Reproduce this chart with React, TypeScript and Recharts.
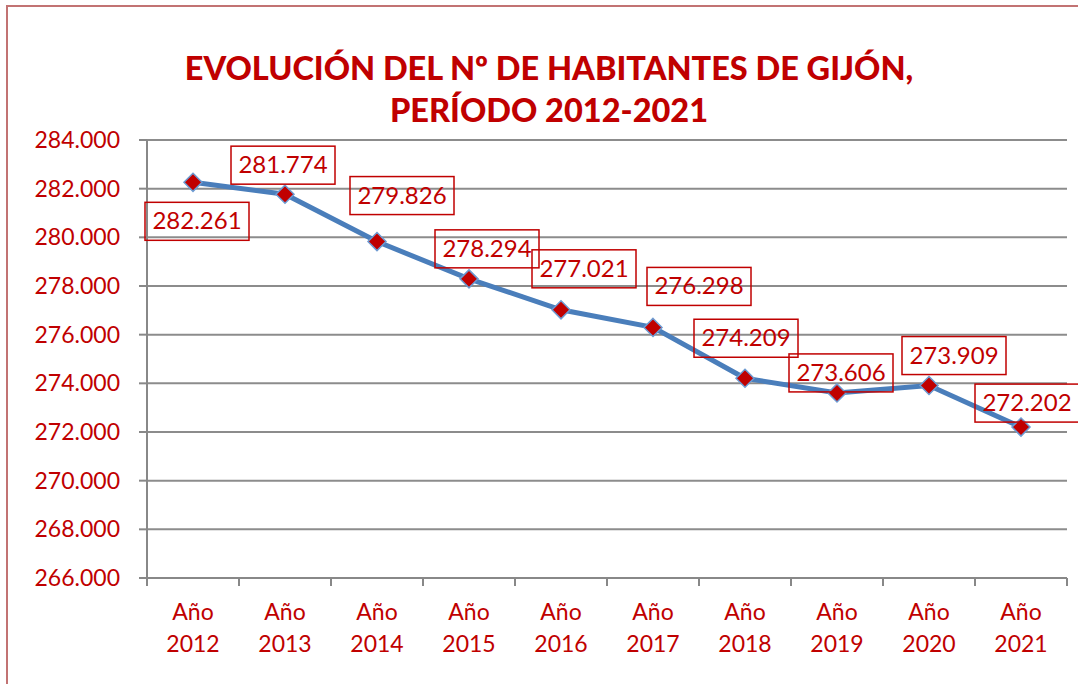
import React from "react"
import { LineChart, Line, XAxis, YAxis, CartesianGrid, LabelList } from "recharts"

const years = ["2012", "2013", "2014", "2015", "2016", "2017", "2018", "2019", "2020", "2021"]
const habitantes = [282261, 281774, 279826, 278294, 277021, 276298, 274209, 273606, 273909, 272202]
const yTicks = [266000, 268000, 270000, 272000, 274000, 276000, 278000, 280000, 282000, 284000]

// manual label placement (dx, dy from the point), like the Excel original
const labelOffsets = [
  [4, 39],
  [-2, -29],
  [25, -46],
  [18, -30],
  [23, -41],
  [46, -41],
  [1, -40],
  [4, -20],
  [25, -30],
  [6, -24],
]

const data = years.map((y, i) => ({ year: y, value: habitantes[i] }))

const RED = "#c00000"
const FONT = "Lato, 'Open Sans', sans-serif"
const HALF_BAND = 46

const fmt = (v: number) => String(v).replace(/\B(?=(\d{3})+(?!\d))/g, ".")

const XTick = (props: any) => {
  const { x, y, payload, index } = props
  const last = index === years.length - 1
  return (
    <g>
      <line x1={x - HALF_BAND} y1={y} x2={x - HALF_BAND} y2={y + 8} stroke="#888" strokeWidth={2} />
      {last && <line x1={x + HALF_BAND} y1={y} x2={x + HALF_BAND} y2={y + 8} stroke="#888" strokeWidth={2} />}
      <text x={x} y={y + 42} textAnchor="middle" fill={RED} fontSize={23} fontFamily={FONT}>
        Año
      </text>
      <text x={x} y={y + 74} textAnchor="middle" fill={RED} fontSize={23} fontFamily={FONT}>
        {payload.value}
      </text>
    </g>
  )
}

const Diamond = (props: any) => {
  const { cx, cy } = props
  const s = 9
  return (
    <path
      d={`M${cx},${cy - s} L${cx + s},${cy} L${cx},${cy + s} L${cx - s},${cy} Z`}
      fill={RED}
      stroke="#6c9bd2"
      strokeWidth={1.5}
    />
  )
}

const BoxLabel = (props: any) => {
  const { x, y, value, index } = props
  const [dx, dy] = labelOffsets[index]
  const cx = x + dx
  const cy = y + dy
  return (
    <g>
      <rect x={cx - 52} y={cy - 19} width={104} height={38} fill="none" stroke={RED} strokeWidth={1.5} />
      <text x={cx} y={cy + 8} textAnchor="middle" fill={RED} fontSize={24} fontFamily={FONT}>
        {fmt(value)}
      </text>
    </g>
  )
}

export default function App() {
  return (
    <div style={{ position: "absolute", left: 0, top: 0, width: 1078, height: 684, overflow: "hidden", background: "#fff" }}>
      <div
        style={{
          position: "absolute",
          left: 6,
          top: 5,
          width: 1200,
          height: 800,
          border: "2px solid #c27373",
        }}
      />
      <div
        style={{
          position: "absolute",
          left: 4,
          width: 1090,
          top: 47,
          textAlign: "center",
          color: RED,
          fontFamily: FONT,
          fontWeight: 900,
          fontSize: 32.5,
          lineHeight: "42px",
        }}
      >
        EVOLUCIÓN DEL Nº DE HABITANTES DE GIJÓN,
        <br />
        PERÍODO 2012-2021
      </div>
      <LineChart
        width={1078}
        height={684}
        data={data}
        margin={{ top: 140, right: 11, bottom: 6, left: 0 }}
        style={{ position: "absolute", left: 0, top: 0 }}
      >
        <CartesianGrid vertical={false} stroke="#8c8c8c" strokeWidth={2} />
        <XAxis
          dataKey="year"
          scale="point"
          padding={{ left: HALF_BAND, right: HALF_BAND }}
          height={100}
          tickSize={0}
          tickMargin={0}
          tickLine={false}
          axisLine={{ stroke: "#888", strokeWidth: 2 }}
          tick={<XTick />}
          interval={0}
        />
        <YAxis
          width={147}
          domain={[266000, 284000]}
          ticks={yTicks}
          interval={0}
          tickFormatter={fmt}
          tickSize={8}
          tickMargin={19}
          axisLine={{ stroke: "#888", strokeWidth: 2 }}
          tickLine={{ stroke: "#888", strokeWidth: 2 }}
          tick={{ fill: RED, fontSize: 23, fontFamily: FONT }}
        />
        <Line
          type="linear"
          dataKey="value"
          stroke="#4a7ebb"
          strokeWidth={5}
          dot={<Diamond />}
          activeDot={false}
          isAnimationActive={false}
        >
          <LabelList dataKey="value" content={<BoxLabel />} />
        </Line>
      </LineChart>
    </div>
  )
}
